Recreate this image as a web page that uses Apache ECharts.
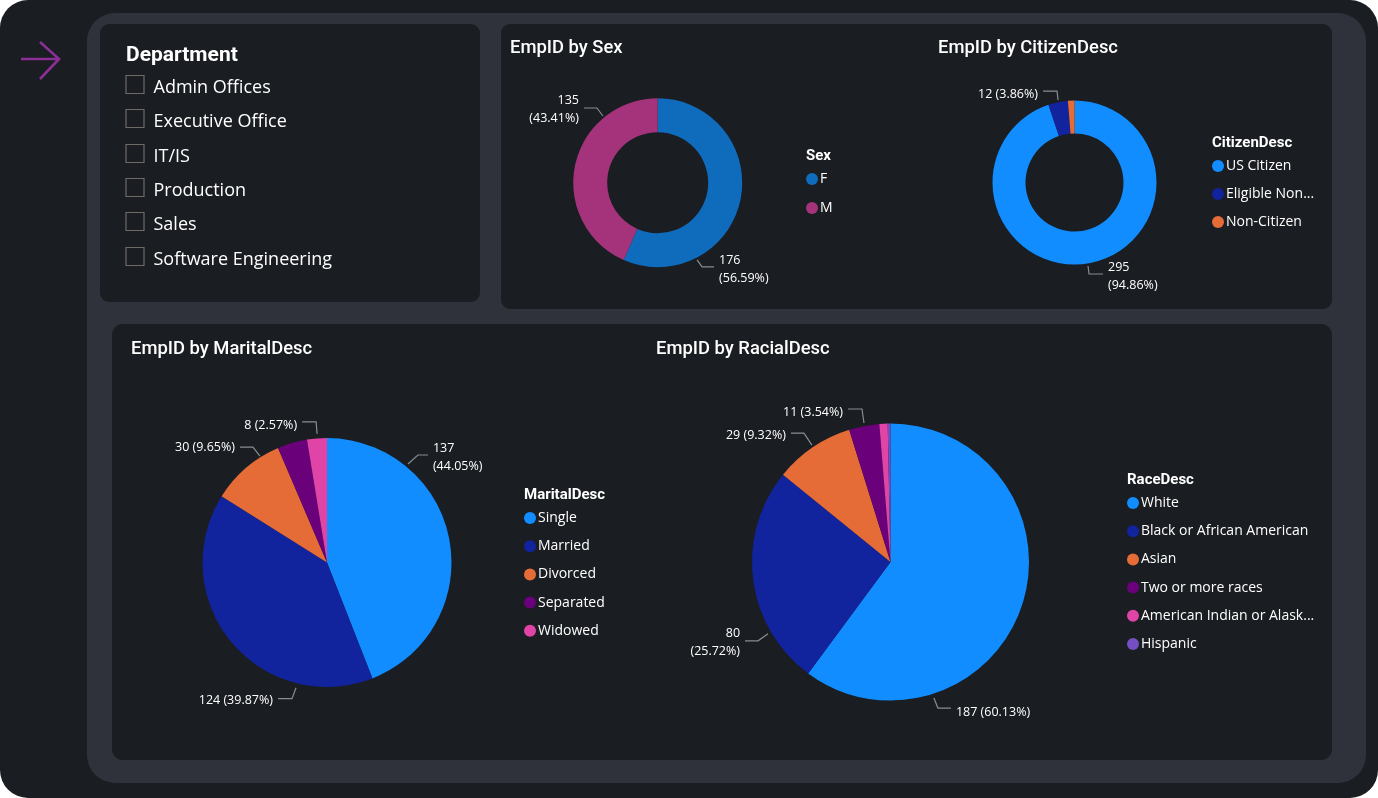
<!DOCTYPE html>
<html>
<head>
<meta charset="utf-8">
<script src="https://cdn.jsdelivr.net/npm/echarts@6/dist/echarts.min.js"></script>
<style>html,body{margin:0;padding:0;background:#fff;overflow:hidden}#c{width:1378px;height:798px}</style>
</head>
<body>
<div id="c"></div>
<script>
const departments = ['Admin Offices','Executive Office','IT/IS','Production','Sales','Software Engineering'];
const sexNames = ['F','M'];
const sexValues = [176,135];
const citizenNames = ['US Citizen','Eligible NonCitizen','Non-Citizen'];
const citizenValues = [295,12,4];
const maritalNames = ['Single','Married','Divorced','Separated','Widowed'];
const maritalValues = [137,124,30,12,8];
const raceNames = ['White','Black or African American','Asian','Two or more races','American Indian or Alaska Native','Hispanic'];
const raceValues = [187,80,29,11,3,1];

const BODY = '"Open Sans","Noto Sans",sans-serif';
const HEAD = 'Roboto,"Noto Sans",sans-serif';
const palette = ['#118DFF','#12239E','#E66C37','#6B007B','#E044A7','#744EC2'];
const sexColors = ['#0F6CBD','#A5337B'];

// leader placement for each visible label, per dataIndex:
// [angle from 12 o'clock, radial gap past the rim, elbow dx, elbow dy, run, text dy, wrapped]
const chartsCfg = [
  {names:sexNames, values:sexValues, colors:sexColors, center:[657.7,182.7], radius:[50.5,84.5],
   leaders:{0:[153,2.2,5,7,12,2,true],1:[-39.4,1.8,-6,-8,-13,1,true]}},
  {names:citizenNames, values:citizenValues, colors:palette, center:[1074.5,182.5], radius:[49,82],
   leaders:{0:[170.8,2.6,1,8,14,2,true],1:[-11.3,2,-1,-9,-14,3,false]}},
  {names:maritalNames, values:maritalValues, colors:palette, center:[327,562.5], radius:[0,124.5],
   leaders:{0:[39.4,3,10,-9,10,2,true],1:[193.9,4.5,-4,11,-14,2,false],2:[-32.2,1.3,-7,-9,-13,0,false],4:[-4.4,4.5,-1,-12,-14,4,false]}},
  {names:raceNames, values:raceValues, colors:palette, center:[890.5,562], radius:[0,138.5],
   leaders:{0:[162.3,4.3,4,10,13,4,false],1:[239.6,3.5,-10,7,-13,2,true],2:[-33.9,2.4,-8,-12,-13,2,false],3:[-10.8,3,-2,-14,-14,3,false]}}
];

const series = chartsCfg.map(cfg => {
  const total = cfg.values.reduce((a,b)=>a+b,0);
  return {
    type:'pie', center:cfg.center, radius:cfg.radius, startAngle:90, clockwise:true,
    avoidLabelOverlap:false, animation:false, silent:true,
    itemStyle:{borderWidth:0},
    labelLine:{show:true, lineStyle:{color:'#8A8D90', width:1.2}},
    data:cfg.names.map((name,i)=>{
      const l = cfg.leaders[i];
      const v = cfg.values[i];
      const pct = (v/total*100).toFixed(2);
      return {
        name, value:v, itemStyle:{color:cfg.colors[i]},
        label:{show:!!l, color:'#fff', fontFamily:BODY, fontSize:12.5, lineHeight:18,
          formatter:(l&&l[6])?(v+'\n('+pct+'%)'):(v+' ('+pct+'%)')},
        labelLine:{show:!!l}
      };
    }),
    labelLayout:(p)=>{
      const l = cfg.leaders[p.dataIndex];
      if(!l) return {};
      const a = l[0]*Math.PI/180, r = cfg.radius[1]+l[1];
      const s = [cfg.center[0]+r*Math.sin(a), cfg.center[1]-r*Math.cos(a)];
      const e = [s[0]+l[2], s[1]+l[3]];
      const t = [e[0]+l[4], e[1]];
      const right = l[4] > 0;
      return {x:t[0]+(right?5:-5), y:t[1]+l[5], align:right?'left':'right', verticalAlign:'middle',
              labelLinePoints:[s,e,t]};
    }
  };
});

const legendBase = {
  orient:'vertical', icon:'circle', itemWidth:12, itemHeight:12, selectedMode:false,
  padding:0, textStyle:{color:'#fff', fontFamily:BODY, fontSize:14, padding:[0,0,0,-3]}
};
const legends = [
  {data:sexNames, left:806, top:172},
  {data:citizenNames, left:1212, top:159, textStyle:{...legendBase.textStyle, width:92, overflow:'truncate', ellipsis:'...'}},
  {data:maritalNames, left:524, top:511},
  {data:raceNames, left:1127, top:496, textStyle:{...legendBase.textStyle, width:176, overflow:'truncate', ellipsis:'...'}}
].map((l,i)=>({...legendBase, itemGap:[15,14,14.2,14.2][i], ...l}));

const heading = (text,left,top,size,weight) => ({text,left,top,padding:0,
  textStyle:{color:'#fff',fontFamily:HEAD,fontSize:size,fontWeight:weight}});
const titles = [
  heading('Department',126,45,21,700),
  heading('EmpID by Sex',510,39,18.4,500),
  heading('EmpID by CitizenDesc',938,39,18.4,500),
  heading('EmpID by MaritalDesc',131,340,18.4,500),
  heading('EmpID by RacialDesc',656,340,18.4,500),
  heading('Sex',806,149,15,700),
  heading('CitizenDesc',1212,136,15,700),
  heading('MaritalDesc',524,488,15,700),
  heading('RaceDesc',1127,473,15,700)
];

const panel = (x,y,w,h,r,fill) => ({type:'rect',z:-10,silent:true,
  shape:{x,y,width:w,height:h,r},style:{fill}});
const checkTops = [75.5,109.5,144.5,178.5,212.5,247.5];
const graphics = [
  panel(0,0,1378,798,28,'#1A1D21'),
  panel(87,13,1279,770,28,'#2F323B'),
  panel(100,24,380,278,9,'#1A1D21'),
  panel(501,24,831,285,9,'#1A1D21'),
  panel(112,324,1220,436,11,'#1A1D21'),
  {type:'polyline',z:-5,silent:true,shape:{points:[[21,59],[59,59]]},style:{stroke:'#8A2F96',lineWidth:2.6,fill:null}},
  {type:'polyline',z:-5,silent:true,shape:{points:[[40,42],[59,59],[40,79]]},style:{stroke:'#8A2F96',lineWidth:2.6,fill:null}}
];
departments.forEach((d,i)=>{
  graphics.push({type:'rect',z:-5,silent:true,shape:{x:126,y:checkTops[i],width:18,height:18},
    style:{fill:null,stroke:'#6E6A66',lineWidth:1.2}});
  graphics.push({type:'text',z:-5,silent:true,style:{x:153.5,y:checkTops[i]+12,text:d,fill:'#fff',
    font:'18px '+BODY,verticalAlign:'middle'}});
});

const chart = echarts.init(document.getElementById('c'),null,{renderer:'canvas'});
chart.setOption({
  animation:false,
  backgroundColor:'transparent',
  title:titles,
  legend:legends,
  graphic:{elements:graphics},
  series
});
</script>
</body>
</html>
